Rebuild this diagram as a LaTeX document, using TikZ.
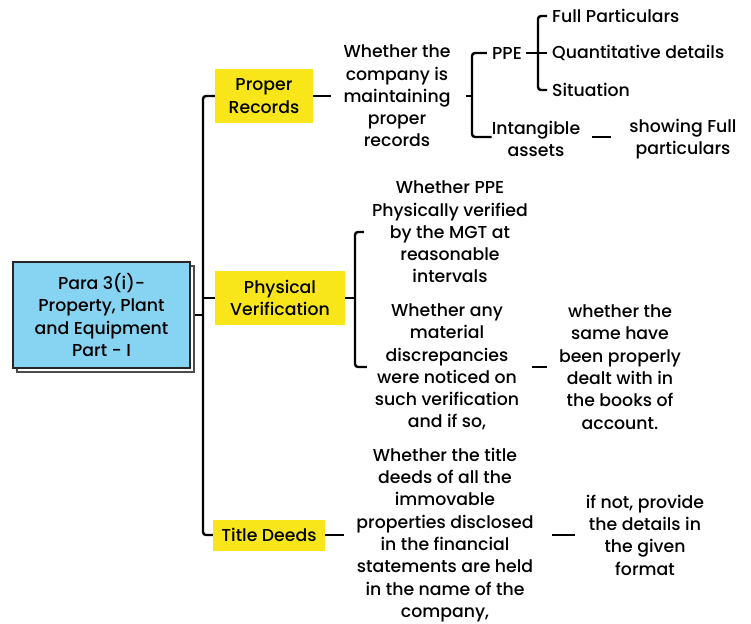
\documentclass[tikz,border=0pt]{standalone}
\usepackage{fontspec}
\setmainfont{Poppins}[UprightFont=* Medium]
\definecolor{hlyellow}{HTML}{F9E61A}
\definecolor{boxblue}{HTML}{86D3F2}
\begin{document}
\begin{tikzpicture}[x=1pt,y=-1pt,
  txt/.style={align=center, inner sep=0pt, font=\fontsize{17.3}{22.3}\selectfont},
  lefttxt/.style={anchor=west, inner sep=0pt, font=\fontsize{17.3}{22.3}\selectfont},
  topic/.style={txt, fill=hlyellow},
  ln/.style={line width=2.4pt, rounded corners=3pt},
  dashln/.style={line width=2.4pt}]
\useasboundingbox (0,0) rectangle (751,623);

% root box with its offset back sheet
\node[draw=black!70, line width=1.8pt, fill=white, minimum width=177pt, minimum height=106pt] (rootback) at (105.5,319) {};
\node[txt, draw=black!85, line width=2pt, fill=boxblue, minimum width=177pt, minimum height=106pt] (root) at (101.5,315)
  {Para 3(i)-\\Property, Plant\\and Equipment\\Part - I};

% first-level topics
\node[topic, minimum width=98pt, minimum height=53pt] (pr) at (264,96) {Proper\\Records};
\node[topic, minimum width=130pt, minimum height=54pt] (pv) at (280,298) {Physical\\Verification};
\node[topic, minimum width=112pt, minimum height=31pt] (td) at (269,535) {Title Deeds};

% trunk
\coordinate (trunk) at (203,315);
\draw[ln] (pr.west) -| (trunk) |- (td.west);
\draw[ln] (pv.west) -- (pv.west -| trunk);
\draw[ln] (rootback.east |- root.east) -- (trunk);

% Proper Records branch
\node[txt] (q1) at (397,96) {Whether the\\company is\\maintaining\\proper\\records};
\draw[dashln, shorten >=12pt] (pr.east) -- (q1.west);
\node[txt] (ppe) at (507,53) {PPE};
\node[txt] (intg) at (536,139) {Intangible\\assets};
\coordinate (b1) at (472,96);
\draw[ln, shorten <=15pt] (q1.east) -- (b1);
\draw[ln, shorten <=5pt] (ppe.west) -| (b1) |- ([yshift=2pt]intg.west);

\node[lefttxt] (fp) at (552,16) {Full Particulars};
\node[lefttxt] (qd) at (552,53) {Quantitative details};
\node[lefttxt] (sit) at (552,90) {Situation};
\coordinate (b2) at (538,53);
\draw[ln, shorten <=4pt] (ppe.east) -- (b2);
\draw[ln, shorten <=5pt, shorten >=5pt] (fp.west) -| (b2) |- (sit.west);
\draw[ln, shorten >=5pt] (b2) -- (qd.west);

\node[txt] (sfp) at (683,139) {showing Full\\particulars};
\draw[dashln, shorten <=12pt, shorten >=18pt] ([yshift=2pt]intg.east) -- ([yshift=2pt]sfp.west);

% Physical Verification branch
\node[txt] (q2) at (450,232) {Whether PPE\\Physically verified\\by the MGT at\\reasonable\\intervals};
\node[txt] (q3) at (447,367) {Whether any\\material\\discrepancies\\were noticed on\\such verification\\and if so,};
\node[txt] (q4) at (620,367) {whether the\\same have\\been properly\\dealt with in\\the books of\\account.};
\coordinate (b3) at (355,298);
\draw[ln] (pv.east) -- (b3);
\draw[ln, shorten <=8pt, shorten >=8pt] (q2.west) -| (b3) |- (q3.west);
\draw[dashln, shorten <=13pt, shorten >=12pt] (q3.east) -- (q4.west);

% Title Deeds branch
\node[txt] (q5) at (445,535) {Whether the title\\deeds of all the\\immovable\\properties disclosed\\in the financial\\statements are held\\in the name of the\\company,};
\node[txt] (q6) at (645,535) {if not, provide\\the details in\\the given\\format};
\draw[dashln, shorten >=12pt] (td.east) -- (q5.west);
\draw[dashln, shorten <=18pt, shorten >=11pt] (q5.east) -- (q6.west);
\end{tikzpicture}
\end{document}
